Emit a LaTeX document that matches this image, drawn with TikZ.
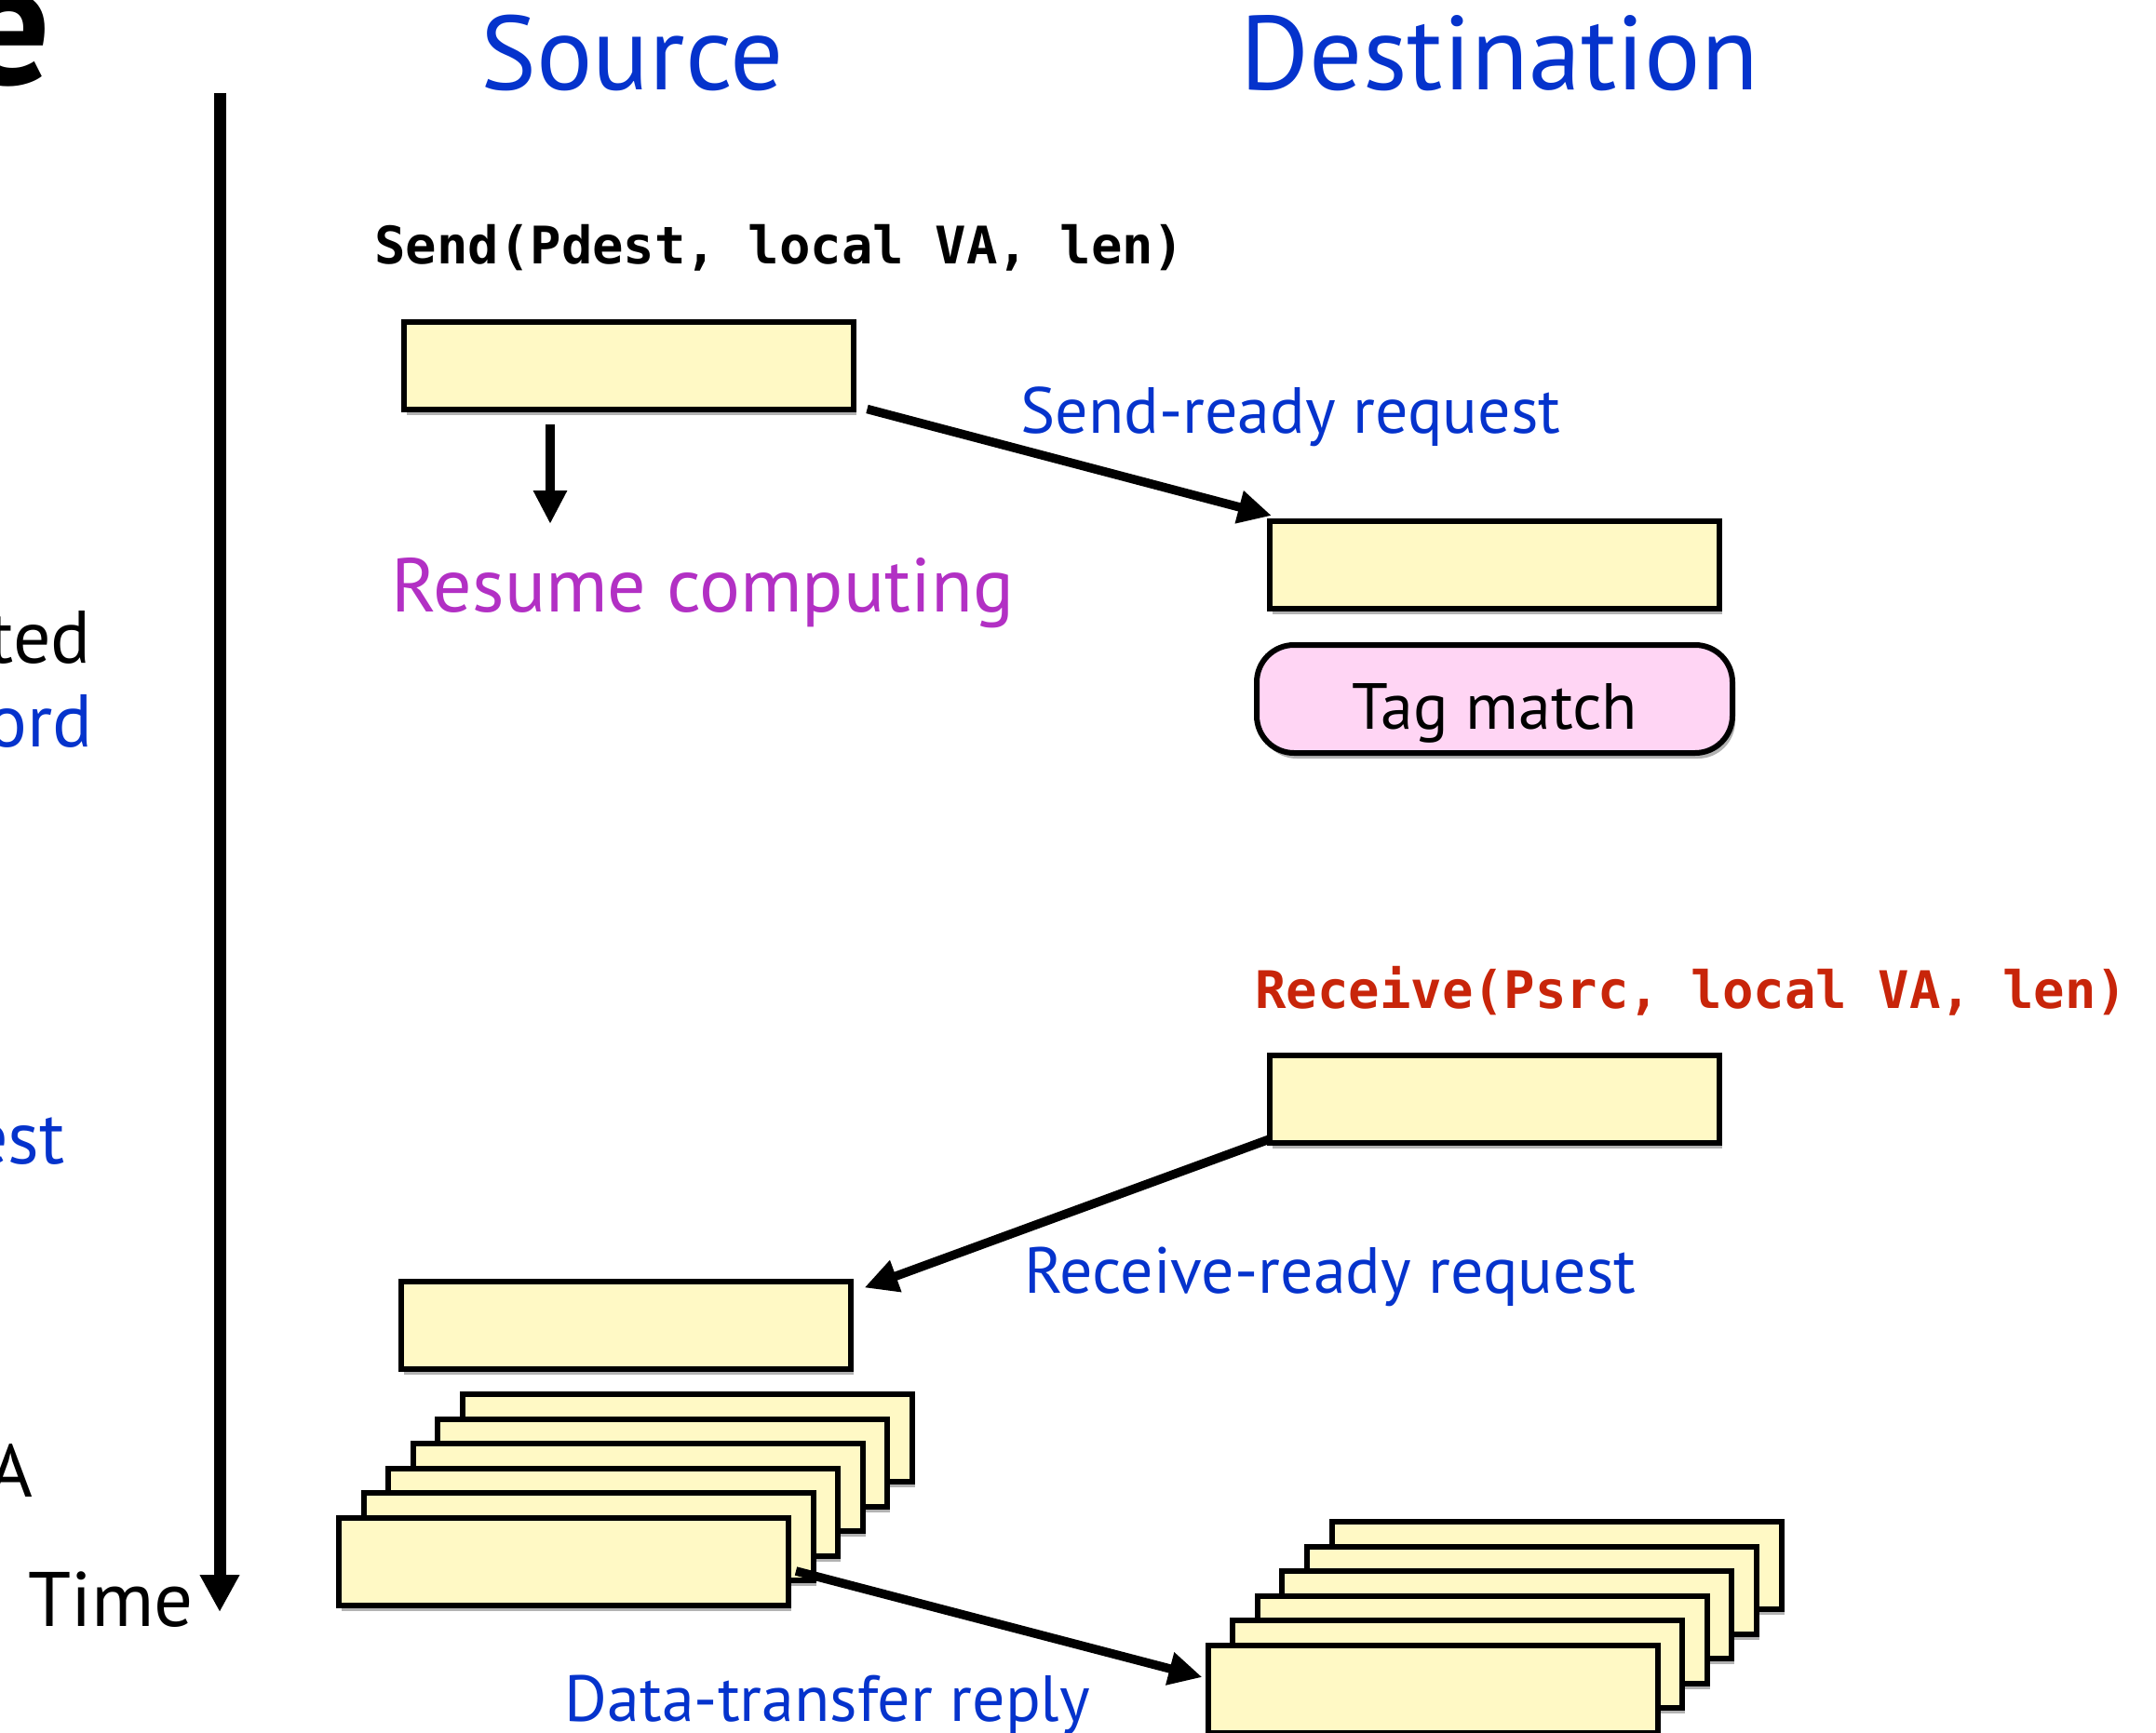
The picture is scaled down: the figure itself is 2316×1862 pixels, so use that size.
\documentclass[tikz,border=0pt]{standalone}
\usepackage{fontspec}
\setmainfont{PT Sans}
\newfontfamily\codefont{DejaVu Sans Mono}
\usetikzlibrary{arrows.meta,shadows}
\definecolor{textblue}{RGB}{5,51,204}
\definecolor{recvred}{RGB}{200,37,10}
\definecolor{resmag}{RGB}{178,48,196}
\definecolor{boxyellow}{RGB}{255,249,197}
\definecolor{tagpink}{RGB}{255,213,244}
\tikzset{
  msgbox/.style={draw, line width=6pt, fill=boxyellow, minimum width=483pt, minimum height=94pt, inner sep=0pt,
     drop shadow={shadow xshift=3pt, shadow yshift=-6pt, opacity=0.3, fill=black}},
  tagbox/.style={draw, line width=6pt, fill=tagpink, minimum width=511pt, minimum height=116pt, inner sep=0pt,
     rounded corners=40pt, drop shadow={shadow xshift=3pt, shadow yshift=-6pt, opacity=0.3, fill=black}},
  arr/.style={line width=9.5pt, -{Triangle[length=36pt,width=34pt]}},
  lbl/.style={inner sep=0pt, font=\fontsize{70}{80}\selectfont, text=textblue},
  side/.style={inner sep=0pt, font=\fontsize{80}{96}\selectfont},
  code/.style={inner sep=0pt, font=\codefont\bfseries\fontsize{55.6}{66}\selectfont},
  head/.style={inner sep=0pt, font=\fontsize{113}{130}\selectfont, text=textblue}
}
\begin{document}
\begin{tikzpicture}[x=1pt,y=-1pt]
\useasboundingbox (0,0) rectangle (2316,1862);
% title fragment and left side text fragments
\node[inner sep=0pt, anchor=base east, font=\bfseries\fontsize{190}{200}\selectfont] (ttl) at (55,91) {e};
\node[side, anchor=base east] (l1) at (98,712) {ted};
\node[side, anchor=base east, text=textblue] (l2) at (100,802) {ord};
\node[side, anchor=base east, text=textblue] (l3) at (70,1250) {est};
\node[side, anchor=base east] (l4) at (35,1608) {A};
\node[inner sep=0pt, anchor=base west, font=\fontsize{83}{96}\selectfont] (time) at (30,1747) {Time};
% time axis
\coordinate (t0) at (236,100);
\coordinate (t1) at (236,1732);
\draw[line width=13pt, -{Triangle[length=40pt,width=40pt]}] (t0) -- (t1);
% headings
\node[head, anchor=base] (src) at (679,97) {Source};
\node[head, anchor=base] (dst) at (1611,97) {Destination};
% calls
\node[code, anchor=base west] (send) at (402,284) {Send(Pdest, local VA, len)};
\node[code, anchor=base west, text=recvred] (recv) at (1348,1083) {Receive(Psrc, local VA, len)};
% boxes
\node[msgbox] (b1) at (675,392.5) {};
\node[msgbox] (b2) at (1605.5,607) {};
\node[tagbox, font=\fontsize{70}{80}\selectfont, text height=64pt, text depth=0pt] (tag) at (1605.5,751) {Tag match};
\node[msgbox] (b3) at (1605.5,1180.5) {};
\node[msgbox] (b4) at (672,1423.5) {};
\foreach \k in {5,4,3,2,1,0}{
  \node[msgbox] (sa\k) at ({605.5+26.6*\k},{1678-26.6*\k}) {};
}
\foreach \k in {5,4,3,2,1,0}{
  \node[msgbox] (da\k) at ({1539+26.6*\k},{1815-26.6*\k}) {};
}
% labels
\node[inner sep=0pt, anchor=base, font=\fontsize{82}{96}\selectfont, text=resmag] (resume) at (755,657) {Resume computing};
\node[lbl, anchor=base] (sr) at (1386.5,465) {Send-ready request};
\node[lbl, anchor=base] (rr) at (1429,1389) {Receive-ready request};
\node[lbl, anchor=base] (dt) at (889,1849) {Data-transfer reply};
% connectors
\coordinate (rc) at (591,563);
\draw[arr] ([shift={(-84,13)}]b1.south) -- (rc);
\draw[arr] ([shift={(12,-3)}]b1.south east) -- ([shift={(5,-3)}]b2.north west);
\draw[arr] ([shift={(4,-7)}]b3.south west) -- ([shift={(12,10)}]b4.north east);
\draw[arr] ([shift={(5,10)}]sa0.east) -- ([shift={(-3,-13)}]da0.west);
\end{tikzpicture}
\end{document}
